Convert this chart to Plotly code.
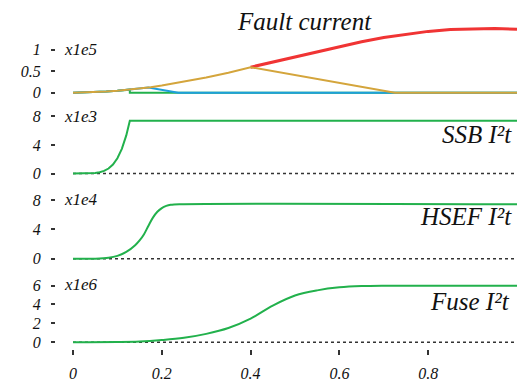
import plotly.graph_objects as go

# ---------------- data ----------------
# Top panel: currents (x1e5)
t_fuse_i = [0, 0.025, 0.05, 0.075, 0.1, 0.125, 0.15, 0.175, 0.2, 0.25, 0.3, 0.35, 0.4, 0.725, 1.0]
i_fuse = [0, 0.003, 0.011, 0.024, 0.042, 0.065, 0.094, 0.126, 0.164, 0.25, 0.351, 0.462, 0.59, 0, 0]

t_hsef_i = [0, 0.025, 0.05, 0.075, 0.1, 0.125, 0.15, 0.17, 0.237, 1.0]
i_hsef = [0, 0.003, 0.011, 0.024, 0.042, 0.065, 0.094, 0.119, 0, 0]

t_ssb_i = [0, 0.025, 0.05, 0.075, 0.1, 0.128, 0.128, 1.0]
i_ssb = [0, 0.003, 0.011, 0.024, 0.042, 0.069, 0, 0]

t_prosp = [0.4, 0.45, 0.5, 0.55, 0.6, 0.65, 0.7, 0.75, 0.8, 0.85, 0.9, 0.93, 0.95, 1.0]
i_prosp = [0.59, 0.71, 0.83, 0.955, 1.075, 1.18, 1.28, 1.355, 1.42, 1.465, 1.485, 1.49, 1.488, 1.47]

# SSB I2t (x1e3)
t_ssb = [0, 0.03, 0.05, 0.06, 0.07, 0.08, 0.09, 0.1, 0.11, 0.12, 0.128, 1.0]
ssb_i2t = [0, 0.005, 0.067, 0.167, 0.36, 0.70, 1.26, 2.14, 3.45, 5.33, 7.36, 7.36]

# HSEF I2t (x1e4)
t_hsef = [0, 0.05, 0.08, 0.1, 0.12, 0.14, 0.15, 0.16, 0.17, 0.18, 0.19, 0.2, 0.21, 0.22, 0.24, 1.0]
hsef_i2t = [0, 0.02, 0.14, 0.4, 0.93, 1.85, 2.5, 3.35, 4.5, 5.6, 6.4, 6.9, 7.2, 7.35, 7.43, 7.43]

# Fuse I2t (x1e6)
t_fuse = [0, 0.1, 0.15, 0.2, 0.25, 0.3, 0.35, 0.4, 0.45, 0.5, 0.55, 0.6, 0.65, 0.7, 0.725, 1.0]
fuse_i2t = [0, 0.01, 0.06, 0.22, 0.46, 0.88, 1.5, 2.5, 3.88, 4.95, 5.5, 5.82, 5.96, 6.0, 6.0, 6.0]

zero_t = [0, 1.0]
zero_v = [0, 0]

x_ticks = [0, 0.2, 0.4, 0.6, 0.8]
x_ticktext = ["0", "0.2", "0.4", "0.6", "0.8"]
y1_ticks = [0, 0.5, 1]
y1_text = ["0", "0.5", "1"]
y2_ticks = [0, 4, 8]
y3_ticks = [0, 4, 8]
y4_ticks = [0, 2, 4, 6]

panel_titles = ["Fault current", "SSB I²t", "HSEF I²t", "Fuse I²t"]
scale_labels = ["x1e5", "x1e3", "x1e4", "x1e6"]

# ---------------- style ----------------
FONT = "Liberation Serif"
GREEN = "#22b14c"
BLUE = "#1e9fdc"
GOLD = "#d4a53c"
RED = "#f03434"
DOT = "#333333"

fig = go.Figure()

# top panel
fig.add_trace(go.Scatter(x=t_prosp, y=i_prosp, mode="lines", line=dict(color=RED, width=3), xaxis="x", yaxis="y"))
fig.add_trace(go.Scatter(x=t_ssb_i, y=i_ssb, mode="lines", line=dict(color=GREEN, width=2), xaxis="x", yaxis="y"))
fig.add_trace(go.Scatter(x=t_hsef_i, y=i_hsef, mode="lines", line=dict(color=BLUE, width=2), xaxis="x", yaxis="y"))
fig.add_trace(go.Scatter(x=t_fuse_i, y=i_fuse, mode="lines", line=dict(color=GOLD, width=2), xaxis="x", yaxis="y"))

# I2t panels
for ax, (tx, vy) in zip(["2", "3", "4"], [(t_ssb, ssb_i2t), (t_hsef, hsef_i2t), (t_fuse, fuse_i2t)]):
    fig.add_trace(go.Scatter(x=zero_t, y=zero_v, mode="lines", line=dict(color=DOT, width=1.5, dash="dot"),
                             xaxis="x" + ax, yaxis="y" + ax))
    shape = "linear" if ax == "2" else "spline"
    fig.add_trace(go.Scatter(x=tx, y=vy, mode="lines", line=dict(color=GREEN, width=2, shape=shape),
                             xaxis="x" + ax, yaxis="y" + ax))

H = 356.0  # plot area height in px (t=0, b=26)


def dom(top_px, bot_px):
    return [(H - bot_px) / H, (H - top_px) / H]


xr = [-17 / 444, (520 - 73) / 444]
tickfont = dict(family=FONT, size=16, color="#111", style="italic")

common_x = dict(range=xr, showgrid=False, zeroline=False, showline=False, domain=[0, 1])
common_y = dict(showgrid=False, zeroline=False, showline=False, ticks="outside", ticklen=4, tickwidth=1.5,
                tickcolor="#333", tickfont=tickfont, ticklabelstandoff=7)

layout = dict(
    width=525, height=382, margin=dict(l=56, r=5, t=0, b=26),
    paper_bgcolor="white", plot_bgcolor="white", showlegend=False,
    xaxis=dict(common_x, anchor="y", showticklabels=False, ticks=""),
    xaxis2=dict(common_x, anchor="y2", showticklabels=False, ticks=""),
    xaxis3=dict(common_x, anchor="y3", showticklabels=False, ticks=""),
    xaxis4=dict(common_x, anchor="y4", tickvals=x_ticks, ticktext=x_ticktext, ticks="outside", ticklen=5,
                tickwidth=1.5, tickcolor="#333", tickfont=tickfont, ticklabelstandoff=5),
    yaxis=dict(common_y, anchor="x", domain=dom(24, 100), range=[-(100 - 94.5) / 44, (94.5 - 24) / 44],
               tickvals=y1_ticks, ticktext=y1_text),
    yaxis2=dict(common_y, anchor="x2", domain=dom(108, 185), range=[-(185 - 177) / 7.3, (177 - 108) / 7.3],
                tickvals=y2_ticks),
    yaxis3=dict(common_y, anchor="x3", domain=dom(193, 271), range=[-(271 - 264) / 7.5, (264 - 193) / 7.5],
                tickvals=y3_ticks),
    yaxis4=dict(common_y, anchor="x4", domain=dom(280, 356), range=[-(356 - 349) / 9.6, (349 - 280) / 9.6],
                tickvals=y4_ticks),
)
fig.update_layout(**layout)

annos = []
title_font = dict(family=FONT, size=25, color="#111", style="italic")
annos.append(dict(text=panel_titles[0], x=304, y=22))
annos.append(dict(text=panel_titles[1], x=514, y=137.5, xanchor="right"))
annos.append(dict(text=panel_titles[2], x=514, y=220.5, xanchor="right"))
annos.append(dict(text=panel_titles[3], x=512, y=307.5, xanchor="right"))

W = 525 - 56 - 5.0
out = []
for a in annos:
    out.append(dict(text=a["text"], xref="paper", yref="paper",
                    x=(a["x"] - 56) / W, y=(H - a["y"]) / H,
                    xanchor=a.get("xanchor", "center"), yanchor="middle", showarrow=False, font=title_font))

for lbl, ypx in zip(scale_labels, [50.5, 118.5, 204, 290.7]):
    out.append(dict(text=lbl, xref="paper", yref="paper", x=(62 - 56) / W, y=(H - ypx) / H,
                    xanchor="left", yanchor="middle", showarrow=False,
                    font=dict(family=FONT, size=17, color="#111", style="italic")))

fig.update_layout(annotations=out)

fig.write_html("out.html", config={"displayModeBar": False},
               post_script="document.body.style.margin='0';document.body.style.padding='0';")
